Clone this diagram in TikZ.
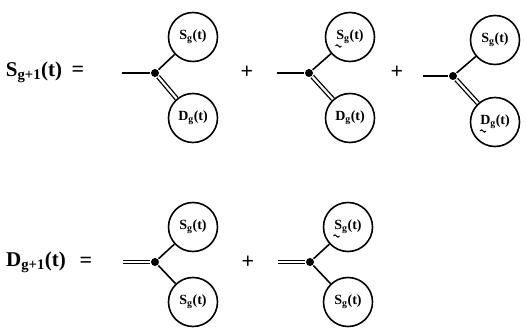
\documentclass[tikz,border=0pt]{standalone}
\usepackage{fontspec}
\setmainfont{Liberation Serif}
\begin{document}
\begin{tikzpicture}[x=1pt,y=-1pt,line width=1.6pt,
  blob/.style={circle,draw,minimum size=49pt,inner sep=0pt,font=\fontsize{14}{14}\selectfont\bfseries},
  vtx/.style={circle,fill,inner sep=0pt,minimum size=8pt},
  dbl/.style={double,double distance=2.2pt,line width=1.3pt},
  squig/.style={line width=1pt},
  lbl/.style={font=\fontsize{21}{21}\selectfont\bfseries},
  op/.style={font=\fontsize{22}{22}\selectfont\bfseries}]
\useasboundingbox (0,0) rectangle (526,328);
% row 1
\node[lbl] (L1) at (34,72) {S\textsubscript{g+1}(t)};
\node[op] (e1) at (78,71) {=};
% diagram 1
\coordinate (a0) at (122,73);
\node[vtx] (a) at (155,73) {};
\node[blob] (aS) at (193,37) {S\textsubscript{g}(t)};
\node[blob] (aD) at (193,118) {D\textsubscript{g}(t)};
\draw (a0) -- (a);
\draw (a) -- (aS);
\draw[dbl] (a) -- (aD);
\node[op] (p1) at (247,72) {+};
% diagram 2
\coordinate (b0) at (277,73);
\node[vtx] (b) at (309,73) {};
\node[blob] (bS) at (350,37) {S\textsubscript{g}(t)};
\node[blob] (bD) at (350,118) {D\textsubscript{g}(t)};
\draw (b0) -- (b);
\draw (b) -- (bS);
\draw[dbl] (b) -- (bD);
\draw[squig] ([shift={(-14.5,9)}]bS.center) sin ++(1.5,-1.2) cos ++(1.5,1.2) sin ++(1.5,1.2) cos ++(1.5,-1.2);
\node[op] (p2) at (397,72) {+};
% diagram 3
\coordinate (c0) at (423,76);
\node[vtx] (c) at (453,76) {};
\node[blob] (cS) at (495,40) {S\textsubscript{g}(t)};
\node[blob] (cD) at (495,122) {D\textsubscript{g}(t)};
\draw (c0) -- (c);
\draw (c) -- (cS);
\draw[dbl] (c) -- (cD);
\draw[squig] ([shift={(-15,9)}]cD.center) sin ++(1.5,-1.2) cos ++(1.5,1.2) sin ++(1.5,1.2) cos ++(1.5,-1.2);
% row 2
\node[lbl] (L2) at (36,262) {D\textsubscript{g+1}(t)};
\node[op] (e2) at (86,262) {=};
% diagram 4
\coordinate (d0) at (123,262);
\node[vtx] (d) at (155,262) {};
\node[blob] (dT) at (193,227) {S\textsubscript{g}(t)};
\node[blob] (dB) at (193,302) {S\textsubscript{g}(t)};
\draw[dbl] (d0) -- (d);
\draw (d) -- (dT);
\draw (d) -- (dB);
\node[op] (p3) at (248,262) {+};
% diagram 5
\coordinate (f0) at (278,262);
\node[vtx] (f) at (310,262) {};
\node[blob] (fT) at (348,227) {S\textsubscript{g}(t)};
\node[blob] (fB) at (348,302) {S\textsubscript{g}(t)};
\draw[dbl] (f0) -- (f);
\draw (f) -- (fT);
\draw (f) -- (fB);
\draw[squig] ([shift={(-14.5,9)}]fT.center) sin ++(1.5,-1.2) cos ++(1.5,1.2) sin ++(1.5,1.2) cos ++(1.5,-1.2);
\end{tikzpicture}
\end{document}
